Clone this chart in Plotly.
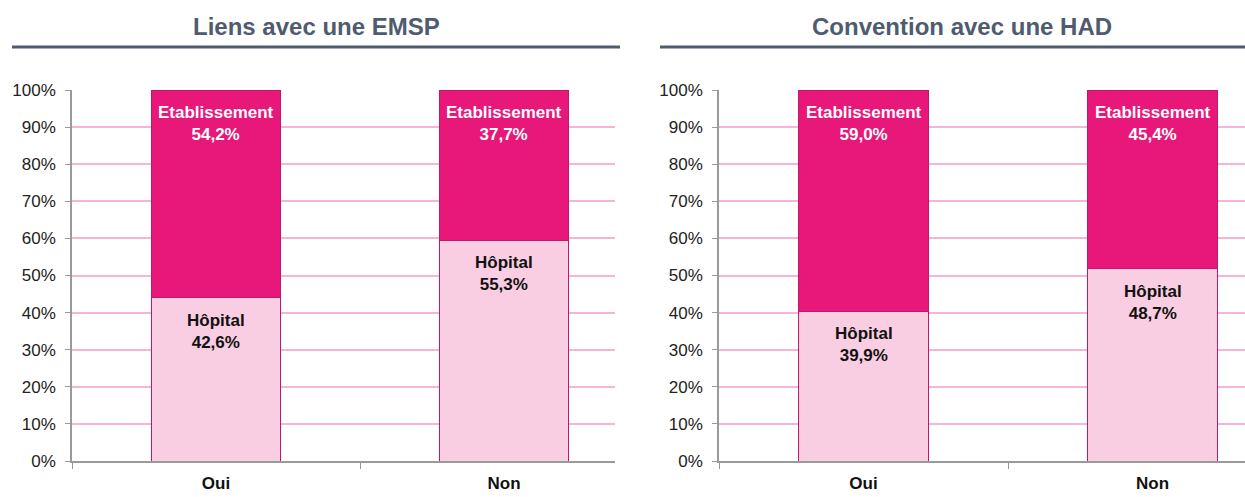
import plotly.graph_objects as go

categories = ["Oui", "Non"]
titles = ["Liens avec une EMSP", "Convention avec une HAD"]
hopital_emsp = [42.6, 55.3]
etab_emsp = [54.2, 37.7]
hopital_had = [39.9, 48.7]
etab_had = [59.0, 45.4]
yticks = [0, 10, 20, 30, 40, 50, 60, 70, 80, 90, 100]
ytick_labels = [f"{v}%" for v in yticks]

W, H = 1245, 497
FONT = "Liberation Sans, Arial, sans-serif"
C_TOP = "#E8177A"
C_BOT = "#F9CDE2"
C_LINE = "#C0196A"
C_GRID = "#F7B5D5"
C_TITLE = "#4F5B6E"
C_AXIS = "#9A9A9A"

def fmt(v):
    return f"{v:.1f}%".replace(".", ",")

fig = go.Figure()

panels = [
    (hopital_emsp, etab_emsp, "x", "y", 72, 615, 1.385),
    (hopital_had, etab_had, "x2", "y2", 719, 1245, 1.32),
]

for i, (hop, etab, xa, ya, px0, px1, rmax) in enumerate(panels):
    tot = [h + e for h, e in zip(hop, etab)]
    hop_n = [h / t * 100 for h, t in zip(hop, tot)]
    etab_n = [e / t * 100 for e, t in zip(etab, tot)]
    fig.add_trace(go.Bar(
        x=categories, y=hop_n, xaxis=xa, yaxis=ya, width=0.45,
        marker=dict(color=C_BOT, line=dict(color=C_LINE, width=1)),
        showlegend=False, hoverinfo="skip",
    ))
    fig.add_trace(go.Bar(
        x=categories, y=etab_n, xaxis=xa, yaxis=ya, width=0.45,
        marker=dict(color=C_TOP, line=dict(color=C_LINE, width=1)),
        showlegend=False, hoverinfo="skip",
    ))
    for c, hn, hv, ev in zip(categories, hop_n, hop, etab):
        fig.add_annotation(
            x=c, y=hn, xref=xa, yref=ya, yanchor="top", yshift=-11,
            text=f"<b>Hôpital<br>{fmt(hv)}</b>", showarrow=False,
            font=dict(family=FONT, size=17, color="#111111"),
        )
        fig.add_annotation(
            x=c, y=100, xref=xa, yref=ya, yanchor="top", yshift=-11,
            text=f"<b>Etablissement<br>{fmt(ev)}</b>", showarrow=False,
            font=dict(family=FONT, size=17, color="white"),
        )
    suffix = "" if i == 0 else "2"
    fig.update_layout(**{
        f"xaxis{suffix}": dict(
            domain=[px0 / W, px1 / W], range=[-0.5, rmax], type="category",
            tickson="boundaries", ticks="outside", ticklen=6, tickcolor=C_AXIS,
            showgrid=False, showline=True, linecolor=C_AXIS, linewidth=1.5,
            tickfont=dict(family=FONT, size=17, color="#111111"),
            tickvals=categories, ticktext=[f"<b>{c}</b>" for c in categories],
            ticklabelstandoff=6, automargin=False,
            anchor=f"y{suffix}", fixedrange=True,
        ),
        f"yaxis{suffix}": dict(
            domain=[(H - 461) / H, (H - 90) / H], range=[0, 100],
            tickvals=yticks, ticktext=ytick_labels, ticks="outside", ticklen=5,
            tickcolor=C_AXIS, showline=True, linecolor=C_AXIS, linewidth=1.5,
            showgrid=True, gridcolor=C_GRID, gridwidth=1.5, zeroline=False,
            tickfont=dict(family=FONT, size=17, color="#222222"),
            ticklabelstandoff=6, automargin=False,
            anchor=f"x{suffix}", fixedrange=True,
        ),
    })

# Titles and underlines
title_pos = [(316, 12, 620), (962, 660, 1245)]
for t, (cx, lx0, lx1) in zip(titles, title_pos):
    fig.add_annotation(
        x=cx / W, y=(H - 26) / H, xref="paper", yref="paper",
        text=f"<b>{t}</b>", showarrow=False, xanchor="center", yanchor="middle",
        font=dict(family=FONT, size=24, color=C_TITLE),
    )
    fig.add_shape(
        type="line", xref="paper", yref="paper",
        x0=lx0 / W, x1=lx1 / W, y0=(H - 47) / H, y1=(H - 47) / H,
        line=dict(color=C_TITLE, width=3),
    )

fig.update_layout(
    barmode="stack", width=W, height=H,
    margin=dict(l=0, r=0, t=0, b=0),
    paper_bgcolor="white", plot_bgcolor="white",
    font=dict(family=FONT),
)

fig.write_html(
    "out.html",
    config={"displayModeBar": False},
    post_script="document.body.style.margin='0';document.body.style.overflow='hidden';",
)
